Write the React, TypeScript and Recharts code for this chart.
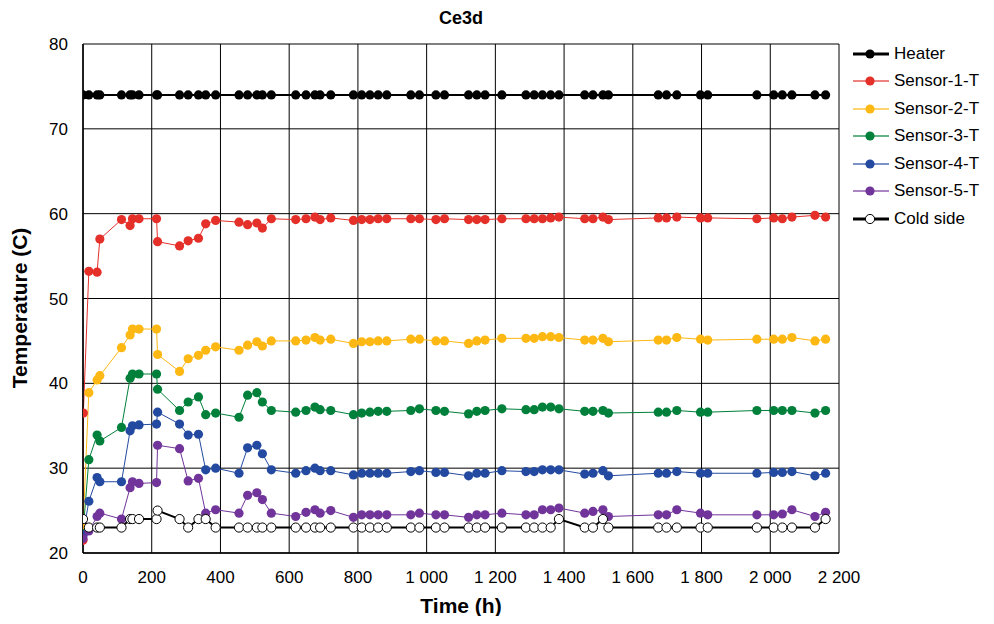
import React from "react";
import { LineChart, Line, XAxis, YAxis, CartesianGrid } from "recharts";

const FONT = "'Liberation Sans', Arial, sans-serif";

// Elapsed time of each measurement (h)
const hours = [
  0, 1, 17, 41, 49, 112, 137, 144, 163, 214, 217, 281, 306, 336, 357, 386,
  454, 479, 506, 522, 548, 619, 649, 675, 690, 721, 787, 811, 835, 859, 884,
  954, 979, 1027, 1052, 1122, 1146, 1170, 1219, 1289, 1313, 1337, 1361, 1385,
  1460, 1484, 1513, 1529, 1674, 1698, 1728, 1797, 1818, 1961, 2010, 2035,
  2063, 2130, 2161,
];

const heater = [
  74, null, 74, 74, 74, 74, 74, 74, 74, 74, 74, 74, 74, 74, 74, 74,
  74, 74, 74, 74, 74, 74, 74, 74, 74, 74, 74, 74, 74, 74, 74,
  74, 74, 74, 74, 74, 74, 74, 74, 74, 74, 74, 74, 74,
  74, 74, 74, 74, 74, 74, 74, 74, 74, 74, 74, 74,
  74, 74, 74,
];

const sensor1 = [
  21.5, 36.5, 53.2, 53.1, 57.0, 59.3, 58.6, 59.4, 59.4, 59.4, 56.7, 56.2, 56.8, 57.1, 58.8, 59.2,
  59.0, 58.7, 58.9, 58.3, 59.4, 59.3, 59.4, 59.6, 59.3, 59.5, 59.2, 59.3, 59.3, 59.4, 59.4,
  59.4, 59.4, 59.3, 59.4, 59.3, 59.3, 59.3, 59.4, 59.4, 59.4, 59.4, 59.5, 59.6,
  59.4, 59.4, 59.6, 59.3, 59.5, 59.5, 59.6, 59.5, 59.5, 59.4, 59.5, 59.4,
  59.6, 59.8, 59.6,
];

const sensor2 = [
  22.9, null, 38.9, 40.4, 40.9, 44.2, 45.7, 46.4, 46.4, 46.4, 43.4, 41.4, 42.9, 43.3, 43.9, 44.3,
  43.9, 44.5, 44.9, 44.4, 45.0, 45.0, 45.1, 45.4, 45.1, 45.2, 44.7, 44.9, 44.9, 45.0, 45.0,
  45.2, 45.2, 45.0, 45.0, 44.7, 45.0, 45.1, 45.3, 45.3, 45.3, 45.5, 45.5, 45.4,
  45.1, 45.1, 45.3, 44.9, 45.1, 45.1, 45.4, 45.2, 45.1, 45.2, 45.2, 45.2,
  45.4, 45.0, 45.2,
];

const sensor3 = [
  22.3, null, 31.0, 33.9, 33.2, 34.8, 40.6, 41.1, 41.1, 41.1, 39.3, 36.8, 37.8, 38.4, 36.3, 36.5,
  36.0, 38.6, 38.9, 37.8, 36.8, 36.6, 36.8, 37.2, 36.9, 36.8, 36.3, 36.5, 36.6, 36.7, 36.7,
  36.8, 37.0, 36.8, 36.7, 36.4, 36.7, 36.8, 37.0, 36.9, 36.9, 37.2, 37.2, 37.0,
  36.7, 36.7, 36.8, 36.5, 36.6, 36.6, 36.8, 36.6, 36.6, 36.8, 36.8, 36.8,
  36.8, 36.5, 36.8,
];

const sensor4 = [
  22.1, null, 26.1, 28.9, 28.4, 28.4, 34.4, 35.0, 35.1, 35.2, 36.6, 35.2, 33.9, 34.0, 29.8, 30.0,
  29.4, 32.4, 32.7, 31.7, 29.8, 29.4, 29.7, 30.0, 29.7, 29.7, 29.2, 29.4, 29.4, 29.4, 29.4,
  29.6, 29.7, 29.5, 29.5, 29.1, 29.4, 29.4, 29.7, 29.6, 29.6, 29.8, 29.8, 29.8,
  29.3, 29.4, 29.7, 29.1, 29.4, 29.4, 29.6, 29.4, 29.4, 29.4, 29.5, 29.5,
  29.6, 29.1, 29.4,
];

const sensor5 = [
  21.7, null, 22.6, 24.3, 24.7, 24.0, 27.7, 28.4, 28.2, 28.3, 32.7, 32.3, 28.5, 28.8, 24.7, 25.1,
  24.7, 26.8, 27.1, 26.3, 24.7, 24.3, 24.8, 25.1, 24.7, 25.0, 24.2, 24.5, 24.5, 24.5, 24.5,
  24.5, 24.7, 24.5, 24.5, 24.2, 24.5, 24.5, 24.7, 24.5, 24.5, 25.1, 25.1, 25.3,
  24.7, 24.9, 25.1, 24.3, 24.5, 24.5, 25.1, 24.7, 24.5, 24.5, 24.5, 24.6,
  25.1, 24.3, 24.8,
];

const coldSide = [
  24, null, 23, 23, 23, 23, 24, 24, 24, 24, 25, 24, 23, 24, 24, 23,
  23, 23, 23, 23, 23, 23, 23, 23, 23, 23, 23, 23, 23, 23, 23,
  23, 23, 23, 23, 23, 23, 23, 23, 23, 23, 23, 23, 24,
  23, 23, 24, 23, 23, 23, 23, 23, 23, 23, 23, 23,
  23, 23, 24,
];

const xTicks = [0, 200, 400, 600, 800, 1000, 1200, 1400, 1600, 1800, 2000, 2200];
const yTicks = [20, 30, 40, 50, 60, 70, 80];

type Series = {
  key: string;
  name: string;
  values: (number | null)[];
  color: string;
  width: number;
  hollow?: boolean;
};

const series: Series[] = [
  { key: "heater", name: "Heater", values: heater, color: "#000000", width: 2 },
  { key: "s1", name: "Sensor-1-T", values: sensor1, color: "#E5302A", width: 1 },
  { key: "s2", name: "Sensor-2-T", values: sensor2, color: "#FDB813", width: 1 },
  { key: "s3", name: "Sensor-3-T", values: sensor3, color: "#00803A", width: 1 },
  { key: "s4", name: "Sensor-4-T", values: sensor4, color: "#234AA0", width: 1 },
  { key: "s5", name: "Sensor-5-T", values: sensor5, color: "#71349A", width: 1 },
  { key: "cold", name: "Cold side", values: coldSide, color: "#000000", width: 2, hollow: true },
];

const rows = hours.map((h, i) => {
  const row: Record<string, number | null> = { time: h };
  series.forEach((s) => {
    row[s.key] = s.values[i];
  });
  return row;
});

const fmtThousands = (v: number) =>
  String(v).replace(/\B(?=(\d{3})+(?!\d))/g, " ");

const DOT_R = 4.6;

function LegendBox() {
  return (
    <div
      style={{
        position: "absolute",
        left: 845,
        top: 32,
        fontFamily: FONT,
        fontSize: 17,
        color: "#000",
      }}
    >
      {series.map((s) => (
        <div
          key={s.key}
          style={{ display: "flex", alignItems: "center", height: 27.5 }}
        >
          <svg width={36} height={12} style={{ display: "block" }}>
            <line x1={0} x2={36} y1={6} y2={6} stroke={s.color} strokeWidth={s.width + 1} strokeOpacity={s.width > 1 ? 1 : 0.6} />
            <circle
              cx={17}
              cy={6}
              r={DOT_R}
              fill={s.hollow ? "#fff" : s.color}
              stroke={s.hollow ? "#000" : "none"}
              strokeWidth={1}
            />
          </svg>
          <span style={{ marginLeft: 5, whiteSpace: "nowrap" }}>{s.name}</span>
        </div>
      ))}
    </div>
  );
}

export default function App() {
  return (
    <div style={{ position: "relative", width: 986, height: 608, fontFamily: FONT }}>
      <div
        style={{
          position: "absolute",
          left: 0,
          top: 0,
          width: 906,
          textAlign: "center",
          fontWeight: "bold",
          fontSize: 18,
          lineHeight: "20px",
        }}
      >
        Ce3d
      </div>
      <LineChart
        width={986}
        height={608}
        data={rows}
        margin={{ top: 36, right: 155, left: 0, bottom: 0 }}
        style={{ fontFamily: FONT }}
      >
        <CartesianGrid stroke="#000" strokeWidth={1} horizontal vertical />
        <XAxis
          dataKey="time"
          type="number"
          domain={[0, 2200]}
          ticks={xTicks}
          tickFormatter={fmtThousands}
          interval={0}
          height={63}
          axisLine={{ stroke: "#000", strokeWidth: 1.5 }}
          tickLine={false}
          tickSize={6}
          tickMargin={12}
          tick={{ fill: "#000", fontSize: 17 }}
          allowDataOverflow
        />
        <YAxis
          type="number"
          domain={[20, 80]}
          ticks={yTicks}
          interval={0}
          width={75}
          axisLine={{ stroke: "#000", strokeWidth: 1.5 }}
          tickLine={false}
          tickSize={6}
          tickMargin={9}
          tick={{ fill: "#000", fontSize: 17 }}
          allowDataOverflow
        />
        {series.map((s) => (
          <Line
            key={s.key}
            dataKey={s.key}
            name={s.name}
            type="linear"
            stroke={s.color}
            strokeWidth={s.width}
            connectNulls
            isAnimationActive={false}
            dot={{
              r: DOT_R,
              fill: s.hollow ? "#fff" : s.color,
              stroke: s.hollow ? "#000" : s.color,
              strokeWidth: s.hollow ? 1 : 0,
            }}
            activeDot={false}
          />
        ))}
      </LineChart>
      <div
        style={{
          position: "absolute",
          left: 12,
          top: 300,
          transform: "translate(-50%, -50%) rotate(-90deg)",
          fontWeight: "bold",
          fontSize: 21,
          whiteSpace: "nowrap",
        }}
      >
        Temperature (C)
      </div>
      <div
        style={{
          position: "absolute",
          left: 0,
          top: 586,
          width: 906,
          textAlign: "center",
          fontWeight: "bold",
          fontSize: 21,
          lineHeight: "24px",
        }}
      >
        Time (h)
      </div>
      <LegendBox />
    </div>
  );
}
